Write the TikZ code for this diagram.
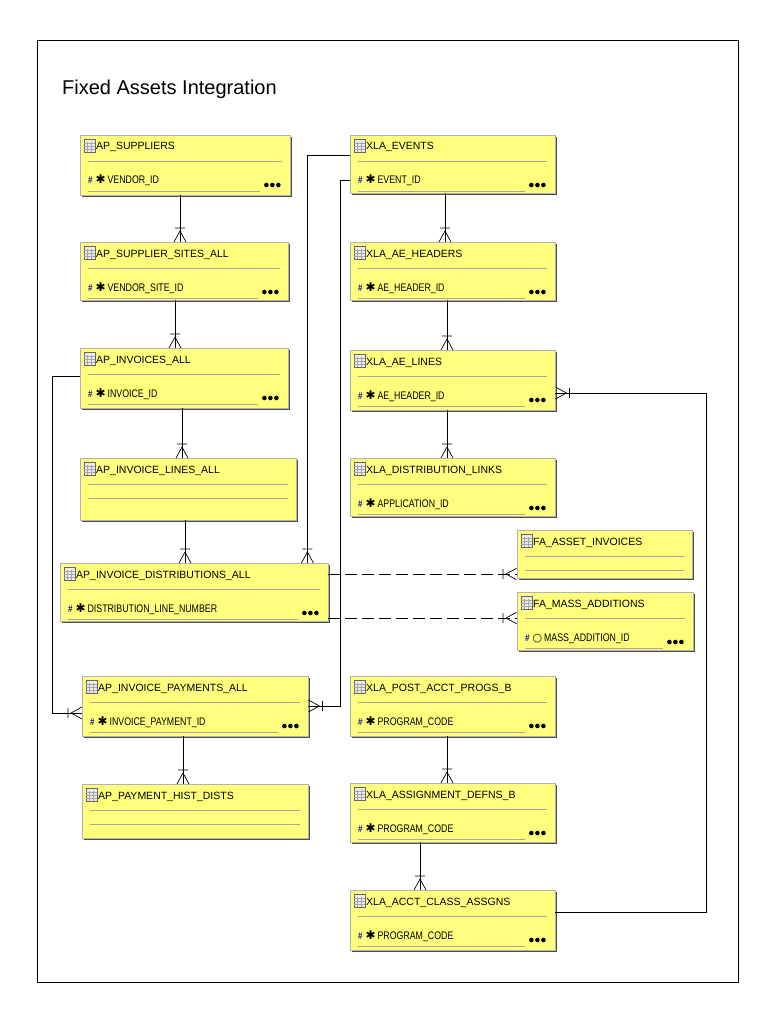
\documentclass[tikz,border=0pt]{standalone}
\usepackage{fontspec}
\setmainfont{Liberation Sans}
\newfontfamily\attrfont[FakeStretch=0.8]{Liberation Sans}
\newfontfamily\symfont{DejaVu Sans}
\usetikzlibrary{positioning,calc,shadows,decorations.markings}
\definecolor{tblfill}{RGB}{255,255,125}
\definecolor{keyblue}{RGB}{20,20,140}

% table box: name, x1, y1, x2, y2, title
\newcommand{\tbl}[6]{%
  \node[tbl, minimum width={(#4-#2)*1pt}, minimum height={(#5-#3)*1pt}] (#1) at (#2,#3) {};
  \draw[black!60, fill=black!8] ($(#1.north west)+(4,4)$) rectangle ++(11,13);
  \foreach \gx in {7.5,11} \draw[black!35] ($(#1.north west)+(\gx,7)$) -- ++(0,10);
  \foreach \gy in {8,11,14} \draw[black!35] ($(#1.north west)+(4,\gy)$) -- ++(11,0);
  \node[ttl] at ($(#1.north west)+(16,15)$) {#6};
  \draw[sep] ($(#1.north west)+(8,26)$) -- ($(#1.north east)+(-8,26)$);
}
% key attribute row: name, symbol, text
\newcommand{\attr}[3]{%
  \node[att] at ($(#1.north west)+(8,49)$) {{\fontsize{10}{10}\selectfont\textcolor{keyblue}{\textbf{\#}}}\;#2\,#3};
  \draw[sep] ($(#1.north west)+(8,56)$) -- ($(#1.north east)+(-30,56)$);
  \foreach \dx in {-24,-18,-12} \fill ($(#1.north east)+(\dx,50)$) circle (2.3);
}
% empty second row
\newcommand{\blank}[1]{%
  \draw[sep] ($(#1.north west)+(8,40)$) -- ($(#1.north east)+(-8,40)$);
}
\newcommand{\pk}{{\symfont\fontsize{12}{12}\selectfont ✱}}
\newcommand{\opk}{{\symfont\fontsize{11}{11}\selectfont ○}}

\begin{document}
\begin{tikzpicture}[x=1pt, y=-1pt,
    tbl/.style={draw=black!30, fill=tblfill, anchor=north west, inner sep=0pt,
      drop shadow={shadow xshift=1.5pt, shadow yshift=-1.5pt, fill=black!70, opacity=1}},
    ttl/.style={anchor=base west, inner sep=0pt, font=\fontsize{10.5}{12}\selectfont},
    att/.style={anchor=base west, inner sep=0pt, font=\attrfont\fontsize{11}{12}\selectfont},
    sep/.style={black!35, line width=0.8pt},
    rel/.style={line width=0.7pt},
    opt/.style={rel, dash pattern=on 12pt off 5pt},
    crow/.style={postaction={decorate, decoration={markings, mark=at position 1 with {
      \draw[line width=0.7pt] (-11pt,0pt) -- (0pt,6pt) (-11pt,0pt) -- (0pt,-6pt)
        (-14pt,5pt) -- (-14pt,-5pt);}}}}
]
\useasboundingbox (0,0) rectangle (768,1024);
\draw[line width=0.8pt] (37,40) rectangle (738,982);
\node[anchor=base west, inner sep=0pt, font=\fontsize{20}{24}\selectfont] (title) at (62,95) {Fixed Assets Integration};

% AP side
\tbl{sup}{80}{135}{290}{195}{AP\_SUPPLIERS}
\attr{sup}{\pk}{VENDOR\_ID}
\tbl{site}{80}{242}{288}{300}{AP\_SUPPLIER\_SITES\_ALL}
\attr{site}{\pk}{VENDOR\_SITE\_ID}
\tbl{inv}{80}{348}{288}{408}{AP\_INVOICES\_ALL}
\attr{inv}{\pk}{INVOICE\_ID}
\tbl{line}{80}{458}{296}{520}{AP\_INVOICE\_LINES\_ALL}
\blank{line}
\tbl{dist}{60}{563}{328}{621}{AP\_INVOICE\_DISTRIBUTIONS\_ALL}
\attr{dist}{\pk}{DISTRIBUTION\_LINE\_NUMBER}
\tbl{pay}{82}{676}{308}{736}{AP\_INVOICE\_PAYMENTS\_ALL}
\attr{pay}{\pk}{INVOICE\_PAYMENT\_ID}
\tbl{hist}{82}{784}{308}{838}{AP\_PAYMENT\_HIST\_DISTS}
\blank{hist}

% XLA side
\tbl{evt}{350}{135}{555}{193}{XLA\_EVENTS}
\attr{evt}{\pk}{EVENT\_ID}
\tbl{hdr}{350}{242}{555}{300}{XLA\_AE\_HEADERS}
\attr{hdr}{\pk}{AE\_HEADER\_ID}
\tbl{ael}{350}{350}{555}{410}{XLA\_AE\_LINES}
\attr{ael}{\pk}{AE\_HEADER\_ID}
\tbl{lnk}{350}{458}{555}{516}{XLA\_DISTRIBUTION\_LINKS}
\attr{lnk}{\pk}{APPLICATION\_ID}
\tbl{prog}{350}{676}{555}{736}{XLA\_POST\_ACCT\_PROGS\_B}
\attr{prog}{\pk}{PROGRAM\_CODE}
\tbl{asg}{350}{783}{555}{842}{XLA\_ASSIGNMENT\_DEFNS\_B}
\attr{asg}{\pk}{PROGRAM\_CODE}
\tbl{cls}{350}{890}{555}{950}{XLA\_ACCT\_CLASS\_ASSGNS}
\attr{cls}{\pk}{PROGRAM\_CODE}

% FA tables
\tbl{fai}{517}{530}{692}{578}{FA\_ASSET\_INVOICES}
\blank{fai}
\tbl{fam}{517}{592}{693}{650}{FA\_MASS\_ADDITIONS}
\attr{fam}{\opk}{MASS\_ADDITION\_ID}

% relationships
\draw[rel, crow] ($(sup.south west)+(100,0)$) coordinate (c1) -- (c1 |- site.north);
\draw[rel, crow] ($(site.south west)+(95,0)$) coordinate (c2) -- (c2 |- inv.north);
\draw[rel, crow] ($(inv.south west)+(102,0)$) coordinate (c3) -- (c3 |- line.north);
\draw[rel, crow] ($(line.south west)+(105,0)$) coordinate (c4) -- (c4 |- dist.north);
\draw[rel, crow] ($(pay.south west)+(101,0)$) coordinate (c5) -- (c5 |- hist.north);
\draw[rel, crow] ($(evt.south west)+(95,0)$) coordinate (c6) -- (c6 |- hdr.north);
\draw[rel, crow] ($(hdr.south west)+(97,0)$) coordinate (c7) -- (c7 |- ael.north);
\draw[rel, crow] ($(ael.south west)+(97,0)$) coordinate (c8) -- (c8 |- lnk.north);
\draw[rel, crow] ($(prog.south west)+(97,0)$) coordinate (c9) -- (c9 |- asg.north);
\draw[rel, crow] ($(asg.south west)+(70,0)$) coordinate (c10) -- (c10 |- cls.north);
\draw[rel, crow] ($(evt.north west)+(0,20)$) -| ($(dist.north east)+(-21,0)$);
\draw[rel, crow] ($(evt.north west)+(0,45)$) -| (340,706) -- (pay.east |- 0,706);
\draw[rel, crow] ($(inv.north west)+(0,28)$) -| (52,713) -- (pay.west |- 0,713);
\draw[rel, crow] ($(cls.north east)+(0,22)$) -| (706,393) -- (ael.east |- 0,393);
\draw[opt, crow] ($(dist.north east)+(0,11)$) -- (fai.west |- 0,574);
\draw[opt, crow] ($(dist.north east)+(0,55)$) -- (fam.west |- 0,618);
\end{tikzpicture}
\end{document}
